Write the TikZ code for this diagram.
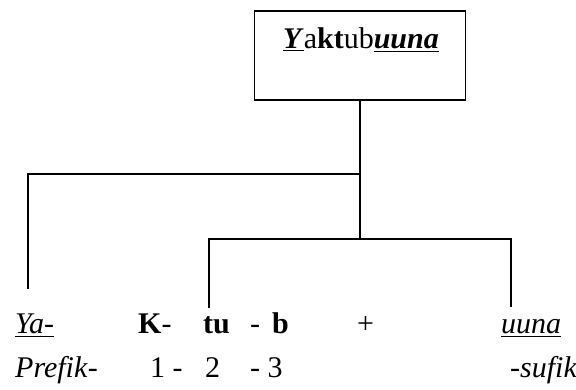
\documentclass[tikz,border=0pt]{standalone}
\usepackage{fontspec}
\setmainfont{Liberation Serif}
\begin{document}
\begin{tikzpicture}[x=1pt,y=-1pt,
  txt/.style={inner sep=0pt,anchor=base west,font=\fontsize{30}{36}\selectfont},
  ln/.style={line width=1.6pt,line cap=rect},
  boxst/.style={draw,line width=1.6pt,minimum width=211pt,minimum height=89pt,inner sep=0pt}]
\useasboundingbox (0,0) rectangle (576,390);
\node[boxst] (box) at (360,55.5) {};
\node[txt] (title) at (283,49) {\underline{\textbf{\textit{Y}}}a\textbf{kt}ub\underline{\textbf{\textit{uuna}}}};
% coordinates of the tree
\coordinate (c1) at (360,174);
\coordinate (c2) at (28,174);
\coordinate (e1) at (28,288);
\coordinate (c3) at (360,239);
\coordinate (c4) at (209,239);
\coordinate (e2) at (209,307);
\coordinate (c5) at (511,239);
\coordinate (e3) at (511,306);
\draw[ln] (box.south) -- (c3);
\draw[ln] (c1) -- (c2) -- (e1);
\draw[ln] (e2) -- (c4) -- (c5) -- (e3);
% row 1
\node[txt] (ya) at (15,334) {\underline{\textit{Ya-}}};
\node[txt] (k) at (138,334) {\textbf{K}-};
\node[txt] (tu) at (203,334) {\textbf{tu}};
\node[txt] (d1) at (250,334) {-};
\node[txt] (b) at (272,334) {\textbf{b}};
\node[txt] (plus) at (357,334) {+};
\node[txt] (uuna) at (501,334) {\underline{\textit{uuna}}};
% row 2
\node[txt] (pref) at (15,377) {\textit{Prefik}-};
\node[txt] (n1) at (150,377) {1 -};
\node[txt] (n2) at (205,377) {2};
\node[txt] (n3) at (250,377) {- 3};
\node[txt] (suf) at (510,377) {-\textit{sufik}};
\end{tikzpicture}
\end{document}
